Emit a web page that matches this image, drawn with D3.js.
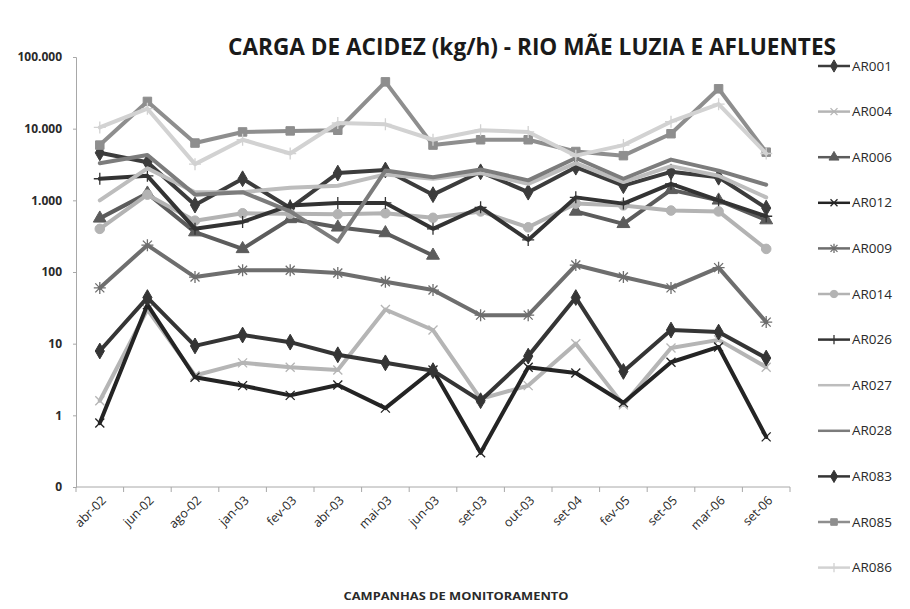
<!DOCTYPE html>
<html>
<head>
<meta charset="utf-8">
<script src="https://cdn.jsdelivr.net/npm/d3@7"></script>
<style>
  html, body { margin: 0; padding: 0; background: #fff; }
  svg { display: block; }
  text { font-family: "Liberation Sans Narrow", "Open Sans", "Liberation Sans", sans-serif; }
</style>
</head>
<body>
<svg id="chart" width="910" height="609"></svg>
<script>
// Campaigns (x categories)
const categories = ["abr-02", "jun-02", "ago-02", "jan-03", "fev-03", "abr-03", "mai-03",
  "jun-03", "set-03", "out-03", "set-04", "fev-05", "set-05", "mar-06", "set-06"];

// Acidity load per station (kg/h); null = no measurement
const ar001 = [4600, 3400, 860, 2000, 780, 2400, 2650, 1200, 2500, 1300, 2900, 1600, 2500, 2100, 780];
const ar004 = [1.6, 30, 3.6, 5.4, 4.7, 4.3, 30, 15.5, 1.7, 2.6, 10, 1.4, 8.7, 11.3, 4.7];
const ar006 = [560, 1250, 360, 210, 550, 420, 350, 170, null, null, 700, 470, 1400, 1000, 530];
const ar012 = [0.78, 35, 3.4, 2.6, 1.9, 2.65, 1.26, 4.3, 0.3, 4.7, 3.9, 1.5, 5.5, 9, 0.5];
const ar009 = [60, 237, 85, 106, 106, 97, 73, 56, 25, 25, 125, 85, 60, 115, 20];
const ar014 = [400, 1200, 520, 660, 650, 640, 660, 570, 700, 420, 900, 850, 720, 700, 210];
const ar026 = [2000, 2200, 400, 500, 850, 920, 920, 400, 800, 280, 1100, 900, 1700, 1000, 600];
const ar027 = [1000, 2800, 1300, 1300, 1500, 1600, 2300, 2000, 2400, 1700, 3300, 1800, 3000, 2200, 1100];
const ar028 = [3300, 4300, 1200, 1300, 700, 265, 2600, 2100, 2700, 1900, 3900, 2000, 3700, 2600, 1650];
const ar083 = [7.9, 44, 9.3, 13.2, 10.5, 7, 5.4, 4.2, 1.6, 6.7, 44, 4.1, 15.5, 14.5, 6.3];
const ar085 = [5900, 24000, 6300, 9000, 9300, 9500, 45000, 5900, 7000, 7000, 4800, 4200, 8500, 36000, 4700];
const ar086 = [10400, 19000, 3200, 7000, 4500, 12000, 11500, 7000, 9500, 9000, 4200, 5900, 12500, 22000, 4500];

const seriesNames = ["AR001", "AR004", "AR006", "AR012", "AR009", "AR014",
  "AR026", "AR027", "AR028", "AR083", "AR085", "AR086"];
const seriesValues = [ar001, ar004, ar006, ar012, ar009, ar014,
  ar026, ar027, ar028, ar083, ar085, ar086];

// Log axis ticks and their labels
const yTickValues = [0.1, 1, 10, 100, 1000, 10000, 100000];
const yTickLabels = ["0", "1", "10", "100", "1.000", "10.000", "100.000"];

const titleText = "CARGA DE ACIDEZ (kg/h) - RIO MÃE LUZIA E AFLUENTES";
const xTitleText = "CAMPANHAS DE MONITORAMENTO";

// Per-series look (grey-scale line chart)
const styles = {
  AR001: { color: "#3c3c3c", marker: "diamond" },
  AR004: { color: "#b5b5b5", marker: "x" },
  AR006: { color: "#5c5c5c", marker: "triangle" },
  AR012: { color: "#242424", marker: "x" },
  AR009: { color: "#6e6e6e", marker: "star" },
  AR014: { color: "#b3b3b3", marker: "circle" },
  AR026: { color: "#333333", marker: "plus" },
  AR027: { color: "#bdbdbd", marker: null },
  AR028: { color: "#7c7c7c", marker: null },
  AR083: { color: "#353535", marker: "diamond" },
  AR085: { color: "#8e8e8e", marker: "square" },
  AR086: { color: "#d2d2d2", marker: "plus" }
};

const svg = d3.select("#chart");
const plot = { left: 76, right: 790, top: 57, bottom: 487 };

const x = d3.scaleBand().domain(categories).range([plot.left, plot.right]).paddingInner(0).paddingOuter(0);
const y = d3.scaleLog().domain([0.1, 100000]).range([plot.bottom, plot.top]);
const cx = c => x(c) + x.bandwidth() / 2;

// Title
svg.append("text")
  .attr("x", 228).attr("y", 55)
  .attr("textLength", 608).attr("lengthAdjust", "spacingAndGlyphs")
  .style("font-family", "'Open Sans', sans-serif")
  .style("font-weight", "bold").style("font-size", "23px").attr("fill", "#1a1a1a")
  .text(titleText);

// Y axis
const yAxis = d3.axisLeft(y).tickValues(yTickValues)
  .tickFormat((d, i) => yTickLabels[i]).tickSize(3).tickPadding(11);
const gy = svg.append("g").attr("transform", `translate(${plot.left},0)`).call(yAxis);
gy.select(".domain").attr("stroke", "#a8a8a8");
gy.selectAll(".tick line").attr("stroke", "#a8a8a8");
gy.selectAll(".tick text").style("font-size", "12px").style("font-weight", "bold").attr("fill", "#2a2a2a");

// X axis: ticks on category boundaries
const boundaries = d3.range(categories.length + 1).map(i => plot.left + i * x.bandwidth());
const gx = svg.append("g");
gx.append("line").attr("x1", plot.left).attr("x2", plot.right)
  .attr("y1", plot.bottom).attr("y2", plot.bottom).attr("stroke", "#a8a8a8");
gx.selectAll("line.tk").data(boundaries).join("line").attr("class", "tk")
  .attr("x1", d => d).attr("x2", d => d)
  .attr("y1", plot.bottom).attr("y2", plot.bottom + 5).attr("stroke", "#a8a8a8");
gx.selectAll("text").data(categories).join("text")
  .attr("transform", d => `translate(${cx(d) + 4},${plot.bottom + 11}) rotate(-45)`)
  .attr("text-anchor", "end").attr("dy", "0.35em")
  .style("font-size", "12.5px").attr("fill", "#2a2a2a")
  .text(d => d);

svg.append("text")
  .attr("x", 456).attr("y", 600).attr("text-anchor", "middle")
  .attr("textLength", 225).attr("lengthAdjust", "spacingAndGlyphs")
  .style("font-size", "11px").style("font-weight", "bold").attr("fill", "#2a2a2a")
  .text(xTitleText);

// Marker shapes: filled symbols from d3, stroked ones as thin crosses
const symbolOf = {
  diamond: d3.symbolDiamond, square: d3.symbolSquare, triangle: d3.symbolTriangle,
  circle: d3.symbolCircle
};
function strokePath(kind, r) {
  const plus = `M${-r},0H${r}M0,${-r}V${r}`;
  const k = r * 0.75;
  const cross = `M${-k},${-k}L${k},${k}M${-k},${k}L${k},${-k}`;
  if (kind === "plus") return plus;
  if (kind === "x") return cross;
  return plus + cross; // star
}
function drawMarker(g, kind, color, px, py, scale) {
  if (!kind) return;
  if (symbolOf[kind]) {
    g.append("path")
      .attr("d", d3.symbol().type(symbolOf[kind]).size(72 * scale)())
      .attr("transform", `translate(${px},${py})`)
      .attr("fill", color).attr("stroke", color).attr("stroke-width", 1);
  } else {
    g.append("path")
      .attr("d", strokePath(kind, 6 * Math.sqrt(scale)))
      .attr("transform", `translate(${px},${py})`)
      .attr("fill", "none").attr("stroke", color).attr("stroke-width", 1.3);
  }
}

// Series lines and markers
const line = d3.line()
  .defined(d => d.v != null)
  .x(d => cx(d.c)).y(d => y(d.v));

const series = seriesNames.map((name, i) => ({
  name,
  points: categories.map((c, j) => ({ c, v: seriesValues[i][j] }))
}));

const gs = svg.append("g");
series.forEach(s => {
  const st = styles[s.name];
  const g = gs.append("g");
  g.append("path").datum(s.points)
    .attr("d", line).attr("fill", "none")
    .attr("stroke", st.color).attr("stroke-width", 4)
    .attr("stroke-linejoin", "round").attr("stroke-linecap", "round");
  s.points.filter(d => d.v != null).forEach(d => drawMarker(g, st.marker, st.color, cx(d.c), y(d.v), 1));
});

// Legend
const legend = svg.append("g");
seriesNames.forEach((name, i) => {
  const st = styles[name];
  const ly = 66 + i * 45.6;
  const g = legend.append("g");
  g.append("line").attr("x1", 818).attr("x2", 850).attr("y1", ly).attr("y2", ly)
    .attr("stroke", st.color).attr("stroke-width", 2.5);
  drawMarker(g, st.marker, st.color, 834, ly, 0.6);
  g.append("text").attr("x", 852).attr("y", ly).attr("dy", "0.36em")
    .attr("textLength", 40).attr("lengthAdjust", "spacingAndGlyphs")
    .style("font-size", "13px").attr("fill", "#2a2a2a").text(name);
});
</script>
</body>
</html>
